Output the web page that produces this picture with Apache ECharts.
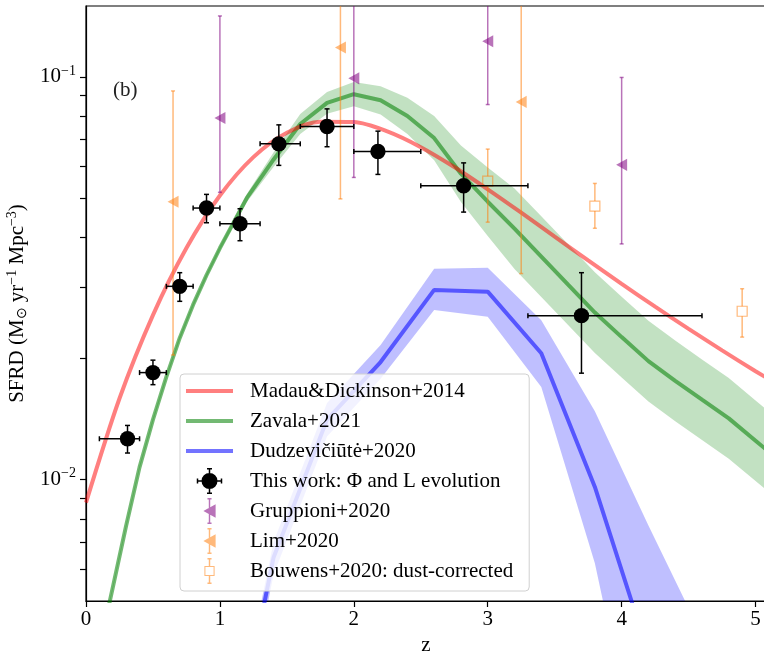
<!DOCTYPE html>
<html><head><meta charset="utf-8">
<script src="https://cdn.jsdelivr.net/npm/echarts@6/dist/echarts.min.js"></script>
<style>html,body{margin:0;padding:0;background:#fff}#c{width:764px;height:652px}</style>
</head><body><div id="c"></div><script>
const FONT = 'Liberation Serif';

// ---- Madau & Dickinson 2014 ----
const mdZ = [0,0.25,0.5,0.75,1,1.25,1.5,1.75,2,2.25,2.5,2.75,3,3.25,3.5,3.75,4,4.25,4.5,4.75,5,5.25];
const mdSFRD = [0.00877,0.01591,0.02563,0.03761,0.05078,0.06324,0.07268,0.07744,0.07727,0.07324,0.06694,0.05975,0.05261,0.04603,0.04013,0.03503,0.03064,0.02689,0.02369,0.02095,0.0186,0.01658];

// ---- Zavala 2021 ----
const zavZ = [0.1,0.2,0.3,0.4,0.5,0.6,0.7,0.8,0.9,1.0,1.2,1.4,1.6,1.8,2.0,2.2,2.4,2.6,2.8,3.0,3.2,3.4,3.6,3.8,4.0,4.2,4.4,4.6,4.8,5.0,5.2];
const zavSFRD = [0.0038,0.0054,0.0077,0.01075,0.0141,0.0180,0.0225,0.0272,0.0322,0.0376,0.0500,0.0623,0.0764,0.0862,0.0906,0.0875,0.0800,0.0705,0.0575,0.0490,0.0420,0.0358,0.0305,0.0260,0.0226,0.0197,0.0176,0.0158,0.0142,0.0125,0.0110];
const zavUp = [0.00384,0.00546,0.00779,0.01087,0.01426,0.01821,0.02276,0.02752,0.03257,0.03812,0.05117,0.06494,0.08093,0.09173,0.09708,0.09484,0.08874,0.08002,0.06756,0.05959,0.05287,0.04507,0.03840,0.03273,0.02845,0.02480,0.02216,0.01989,0.01788,0.01574,0.01385];
const zavLo = [0.00376,0.00534,0.00761,0.01063,0.01394,0.01779,0.02224,0.02689,0.03183,0.03708,0.04886,0.05977,0.07212,0.08101,0.08456,0.08073,0.07212,0.06211,0.04894,0.04029,0.03336,0.02844,0.02423,0.02065,0.01795,0.01565,0.01398,0.01255,0.01128,0.00993,0.00874];

// ---- Dudzeviciute 2020 ----
const dudZ = [1.2,1.4,1.8,2.2,2.6,3.0,3.4,3.8,4.2,4.6];
const dudSFRD = [0.0030,0.0064,0.0141,0.0196,0.0296,0.0293,0.0206,0.0096,0.0037,0.0015];
const dudUp = [0.0033,0.0070,0.0155,0.0216,0.0334,0.0336,0.0249,0.0148,0.0077,0.0041];
const dudLo = [0.0027,0.0058,0.0128,0.0178,0.0264,0.0254,0.0170,0.0062,0.0015,0.0006];

// ---- This work ----
const thisZ = [0.31,0.50,0.70,0.90,1.15,1.44,1.80,2.18,2.82,3.70];
const thisZLo = [0.10,0.40,0.60,0.80,1.00,1.30,1.60,2.00,2.50,3.30];
const thisZHi = [0.40,0.60,0.80,1.00,1.30,1.60,2.00,2.50,3.30,4.60];
const thisSFRD = [0.01264,0.01845,0.03021,0.04726,0.04319,0.06822,0.07534,0.06531,0.05367,0.02555];
const thisLo = [0.01165,0.01722,0.02773,0.04345,0.03921,0.06032,0.0671,0.05728,0.04618,0.01839];
const thisHi = [0.01364,0.01981,0.03266,0.0511,0.04707,0.07603,0.08331,0.07335,0.06118,0.03266];

// ---- Gruppioni 2020 ----
const grupZ = [1.0,2.0,3.0,4.0];
const grupSFRD = [0.0791,0.0992,0.1226,0.0605];
const grupLo = [0.0517,0.0563,0.0854,0.0385];
const grupHi = [0.1417,0.30,0.30,0.0997];

// ---- Lim 2020 ----
const limZ = [0.65,1.90,3.25];
const limSFRD = [0.0490,0.1183,0.0867];
const limLo = [0.0204,0.0498,0.0325];
const limHi = [0.0923,0.30,0.30];

// ---- Bouwens 2020 ----
const bouZ = [3.0,3.8,4.9];
const bouSFRD = [0.0551,0.0478,0.0262];
const bouLo = [0.0436,0.0421,0.0226];
const bouHi = [0.0662,0.0544,0.0298];

// ---- ticks ----
const xTicks = [0,1,2,3,4,5];
const yMajor = [0.01,0.1];
const yMinor = [0.006,0.007,0.008,0.009,0.02,0.03,0.04,0.05,0.06,0.07,0.08,0.09];

const RED = 'rgba(255,0,0,0.5)';
const GREEN = 'rgba(0,128,0,0.55)';
const GREEN_BAND = 'rgba(0,128,0,0.24)';
const BLUE = 'rgba(0,0,255,0.55)';
const BLUE_BAND = 'rgba(0,0,255,0.25)';
const PURPLE = 'rgba(128,0,128,0.55)';
const ORANGE = 'rgba(255,127,14,0.55)';

function bandSeries(name, zs, lo, up, color) {
  return {
    type: 'custom', name: name, silent: true, z: 1, clip: true,
    data: [[zs[4], up[4]]],
    renderItem: function (params, api) {
      const pts = [];
      for (let i = 0; i < zs.length; i++) pts.push(api.coord([zs[i], up[i]]));
      for (let i = zs.length - 1; i >= 0; i--) pts.push(api.coord([zs[i], lo[i]]));
      return { type: 'polygon', shape: { points: pts }, style: { fill: color } };
    }
  };
}

function errSeries(name, zs, ys, zl, zh, yl, yh, opt) {
  const data = zs.map((z, i) => [z, ys[i], zl ? zl[i] : z, zh ? zh[i] : z, yl[i], yh[i]]);
  return {
    type: 'custom', name: name, z: opt.z || 3, clip: true, data: data,
    itemStyle: { color: opt.fill },
    renderItem: function (params, api) {
      const z = api.value(0), y = api.value(1), z1 = api.value(2), z2 = api.value(3), y1 = api.value(4), y2 = api.value(5);
      const c = api.coord([z, y]);
      const pl = api.coord([z, y1]), ph = api.coord([z, y2]);
      const st = { stroke: opt.bar, lineWidth: opt.lw };
      const k = opt.cap;
      const ch = [];
      const line = (x1, yy1, x2, yy2) => ch.push({ type: 'line', shape: { x1: x1, y1: yy1, x2: x2, y2: yy2 }, style: st });
      if (opt.gap) { line(c[0], pl[1], c[0], c[1] + opt.gap); line(c[0], c[1] - opt.gap, c[0], ph[1]); }
      else line(c[0], pl[1], c[0], ph[1]);
      line(c[0] - k, pl[1], c[0] + k, pl[1]);
      line(c[0] - k, ph[1], c[0] + k, ph[1]);
      if (z1 !== z2) {
        const xl = api.coord([z1, y])[0], xh = api.coord([z2, y])[0];
        line(xl, c[1], xh, c[1]);
        line(xl, c[1] - k, xl, c[1] + k);
        line(xh, c[1] - k, xh, c[1] + k);
      }
      const s = opt.size;
      if (opt.marker === 'circle') {
        ch.push({ type: 'circle', shape: { cx: c[0], cy: c[1], r: s }, style: { fill: opt.fill } });
      } else if (opt.marker === 'left') {
        ch.push({ type: 'polygon', shape: { points: [[c[0] - s, c[1]], [c[0] + s, c[1] - s * 1.1], [c[0] + s, c[1] + s * 1.1]] }, style: { fill: opt.fill } });
      } else {
        ch.push({ type: 'rect', shape: { x: c[0] - s, y: c[1] - s, width: 2 * s, height: 2 * s }, style: { fill: 'none', stroke: opt.fill, lineWidth: 1.2 } });
      }
      return { type: 'group', children: ch };
    }
  };
}

const lineIcon = 'path://M0,0H47V4H0Z';
const thisIcon = 'path://M5,13A8,8 0 1,1 21,13A8,8 0 1,1 5,13Z M1,12.25H25V13.75H1Z M12.25,0H13.75V26H12.25Z M0.25,10.5H1.75V15.5H0.25Z M24.25,10.5H25.75V15.5H24.25Z M10.5,0H15.5V1.5H10.5Z M10.5,24.5H15.5V26H10.5Z';
const triIcon = 'path://M7,13L19,6.5L19,19.5Z M12.3,1H13.7V25H12.3Z M11,0.25H15V1.75H11Z M11,24.25H15V25.75H11Z';
const sqIcon = 'path://M8,8H18V18H8Z M9,9V17H17V9Z M12.3,1H13.7V8H12.3Z M12.3,18H13.7V25H12.3Z M11,0.25H15V1.75H11Z M11,24.25H15V25.75H11Z';

const chart = echarts.init(document.getElementById('c'), null, { renderer: 'canvas' });
const L10 = v => Math.log10(v);

chart.setOption({
  animation: false,
  backgroundColor: '#fff',
  grid: { left: 86, right: -2, top: 6, bottom: 51, show: true, borderColor: '#000', borderWidth: 1.2, backgroundColor: 'transparent', outerBoundsMode: 'none', containLabel: false },
  xAxis: {
    type: 'value', min: 0, max: 5.078,
    axisLine: { show: true, onZero: false, lineStyle: { color: '#000', width: 1.2 } },
    axisTick: { show: true, length: 6, customValues: xTicks, lineStyle: { color: '#000', width: 1.2 } },
    axisLabel: { customValues: xTicks, fontSize: 21, fontFamily: FONT, color: '#000', margin: 8 },
    splitLine: { show: false },
    name: 'z', nameLocation: 'middle', nameGap: 21,
    nameTextStyle: { fontSize: 21, fontFamily: FONT, color: '#000' }
  },
  yAxis: [
    {
      type: 'log', logBase: 10, min: 0.005, max: 0.15,
      axisLine: { show: true, lineStyle: { color: '#000', width: 1.2 } },
      axisTick: { show: false }, axisLabel: { show: false }, splitLine: { show: false }
    },
    {
      type: 'value', position: 'left', min: L10(0.005), max: L10(0.15),
      axisLine: { show: false },
      axisTick: { show: true, length: 6, customValues: yMinor.concat(yMajor).map(L10), lineStyle: { color: '#000', width: 1.2 } },
      axisLabel: {
        customValues: yMajor.map(L10), margin: 10, color: '#000', fontFamily: FONT,
        formatter: v => '{b|10}{s|\u2212' + Math.round(-v) + '}',
        rich: {
          b: { fontSize: 21, fontFamily: FONT, color: '#000' },
          s: { fontSize: 14, fontFamily: FONT, color: '#000', padding: [0, 0, 12, 0] }
        }
      },
      splitLine: { show: false },
      name: 'SFRD (M{sub|\u2299} yr{sup|\u22121} Mpc{sup|\u22123})',
      nameLocation: 'middle', nameRotate: 90, nameGap: 55,
      nameTextStyle: {
        fontSize: 21, fontFamily: FONT, color: '#000',
        rich: {
          sub: { fontSize: 14, fontFamily: FONT, color: '#000', padding: [10, 0, 0, 0] },
          sup: { fontSize: 14, fontFamily: FONT, color: '#000', padding: [0, 0, 10, 0] }
        }
      }
    }
  ],
  legend: {
    left: 180, top: 374, orient: 'vertical',
    itemWidth: 47, itemHeight: 26, itemGap: 4,
    padding: [4, 16, 7, 6],
    backgroundColor: 'rgba(255,255,255,0.8)', borderColor: '#d0d0d0', borderWidth: 1, borderRadius: 4,
    selectedMode: false,
    textStyle: { fontSize: 21, lineHeight: 26, fontFamily: FONT, color: '#000', padding: [0, 0, 0, 12] },
    data: [
      { name: 'Madau&Dickinson+2014', icon: lineIcon, itemStyle: { color: RED } },
      { name: 'Zavala+2021', icon: lineIcon, itemStyle: { color: GREEN } },
      { name: 'Dudzevi\u010Di\u016Bt\u0117+2020', icon: lineIcon, itemStyle: { color: BLUE } },
      { name: 'This work: \u03A6 and L evolution', icon: thisIcon, itemStyle: { color: '#000' } },
      { name: 'Gruppioni+2020', icon: triIcon, itemStyle: { color: PURPLE } },
      { name: 'Lim+2020', icon: triIcon, itemStyle: { color: ORANGE } },
      { name: 'Bouwens+2020: dust-corrected', icon: sqIcon, itemStyle: { color: ORANGE } }
    ]
  },
  graphic: [
    { type: 'text', left: 113, top: 80, style: { text: '(b)', font: '21px "Liberation Serif"', fill: '#222' } }
  ],
  series: [
    bandSeries('Zavala band', zavZ, zavLo, zavUp, GREEN_BAND),
    bandSeries('Dudzeviciute band', dudZ, dudLo, dudUp, BLUE_BAND),
    { type: 'line', name: 'Zavala+2021', z: 2, showSymbol: false, symbol: 'none', data: zavZ.map((z, i) => [z, zavSFRD[i]]), lineStyle: { color: GREEN, width: 4 }, itemStyle: { color: GREEN } },
    { type: 'line', name: 'Dudzevi\u010Di\u016Bt\u0117+2020', z: 2, showSymbol: false, symbol: 'none', data: dudZ.map((z, i) => [z, dudSFRD[i]]), lineStyle: { color: BLUE, width: 4 }, itemStyle: { color: BLUE } },
    { type: 'line', name: 'Madau&Dickinson+2014', z: 2, showSymbol: false, symbol: 'none', smooth: 0.3, data: mdZ.map((z, i) => [z, mdSFRD[i]]), lineStyle: { color: RED, width: 4 }, itemStyle: { color: RED } },
    errSeries('Gruppioni+2020', grupZ, grupSFRD, null, null, grupLo, grupHi, { bar: PURPLE, lw: 1.5, cap: 2, size: 5.5, marker: 'left', fill: PURPLE }),
    errSeries('Lim+2020', limZ, limSFRD, null, null, limLo, limHi, { bar: ORANGE, lw: 1.5, cap: 2, size: 5.5, marker: 'left', fill: ORANGE }),
    errSeries('Bouwens+2020: dust-corrected', bouZ, bouSFRD, null, null, bouLo, bouHi, { bar: ORANGE, lw: 1.5, cap: 2, size: 5, marker: 'square', fill: ORANGE, gap: 5 }),
    errSeries('This work: \u03A6 and L evolution', thisZ, thisSFRD, thisZLo, thisZHi, thisLo, thisHi, { bar: '#000', lw: 1.5, cap: 2.5, size: 7.7, marker: 'circle', fill: '#000', z: 4 })
  ]
});
</script></body></html>
